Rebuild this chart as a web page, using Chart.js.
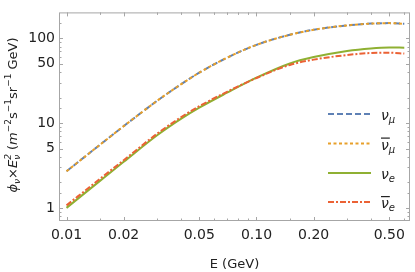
<!DOCTYPE html>
<html>
<head>
<meta charset="utf-8">
<script src="https://cdn.jsdelivr.net/npm/chart.js@4.4.1/dist/chart.umd.min.js"></script>
<style>
  html, body { margin: 0; padding: 0; background: #fff; }
  #wrap { width: 415px; height: 272px; }
</style>
</head>
<body>
<div id="wrap"><canvas id="fluxChart"></canvas></div>
<script>
// energies (GeV) and flux x E^2 values
const energy = [0.01, 0.015, 0.02, 0.03, 0.04, 0.05, 0.07, 0.1, 0.15, 0.2, 0.3, 0.4, 0.5, 0.6];
const numu    = [2.7, 5.55, 9.2, 18.3, 28.6, 39.3, 59, 83.7, 110, 126, 142, 149, 151, 148];
const numubar = [2.7, 5.55, 9.2, 18.3, 28.6, 39.3, 59, 83.7, 110, 126, 142, 149, 151, 148];
const nue     = [1.0, 2.08, 3.49, 7.18, 11.2, 15.2, 22.8, 34.3, 50.5, 60, 71, 76, 77.8, 77.5];
const nuebar  = [1.07, 2.2, 3.65, 7.5, 11.7, 15.8, 23.4, 34.0, 48.5, 56, 63.5, 67, 67.5, 66];

const xTicks = [0.01, 0.02, 0.05, 0.1, 0.2, 0.5];
const xMinor = [0.015, 0.03, 0.04, 0.06, 0.07, 0.08, 0.09, 0.15, 0.3, 0.4, 0.6];
const yTicks = [1, 5, 10, 50, 100];
const yMinor = [0.8, 0.9, 1.5, 2, 3, 4, 6, 7, 8, 9, 15, 20, 30, 40, 60, 70, 80, 90, 150];

const legendNames = [
    { sub: 'μ', bar: false },
    { sub: 'μ', bar: true },
    { sub: 'e', bar: false },
    { sub: 'e', bar: true }
];

const FONT = 'DejaVu Sans';

function toPoints(values) {
    return energy.map((e, i) => ({ x: e, y: values[i] }));
}

// frame, inward tick marks, y title and legend
const decorPlugin = {
    id: 'decor',
    afterDatasetsDraw(chart) {
        const ctx = chart.ctx;
        const a = chart.chartArea;
        const xs = chart.scales.x, ys = chart.scales.y;
        ctx.save();
        ctx.strokeStyle = '#a6a6a6';
        ctx.lineWidth = 1;
        ctx.strokeRect(a.left + 0.5, a.top + 0.5, a.right - a.left - 1, a.bottom - a.top - 1);

        function xTick(v, len) {
            const px = Math.round(xs.getPixelForValue(v)) + 0.5;
            ctx.beginPath();
            ctx.moveTo(px, a.bottom); ctx.lineTo(px, a.bottom - len);
            ctx.moveTo(px, a.top); ctx.lineTo(px, a.top + len);
            ctx.stroke();
        }
        function yTick(v, len) {
            const py = Math.round(ys.getPixelForValue(v)) + 0.5;
            ctx.beginPath();
            ctx.moveTo(a.left, py); ctx.lineTo(a.left + len, py);
            ctx.moveTo(a.right, py); ctx.lineTo(a.right - len, py);
            ctx.stroke();
        }
        xTicks.forEach(v => xTick(v, 4));
        xMinor.forEach(v => xTick(v, 2.5));
        yTicks.forEach(v => yTick(v, 4));
        yMinor.forEach(v => yTick(v, 2.5));

        // legend
        const rows = [114, 143.5, 173, 202];
        chart.data.datasets.forEach((ds, i) => {
            const y = rows[i];
            ctx.save();
            ctx.strokeStyle = ds.borderColor;
            ctx.lineWidth = ds.borderWidth;
            ctx.setLineDash(ds.borderDash || []);
            ctx.beginPath();
            ctx.moveTo(328, y); ctx.lineTo(371, y);
            ctx.stroke();
            ctx.restore();

            const item = legendNames[i];
            ctx.fillStyle = '#222';
            ctx.textBaseline = 'alphabetic';
            ctx.font = 'italic 14px ' + FONT;
            ctx.fillText('ν', 381, y + 6);
            const w = ctx.measureText('ν').width;
            ctx.font = 'italic 10px ' + FONT;
            ctx.fillText(item.sub, 381 + w, y + 9);
            if (item.bar) {
                ctx.fillRect(381, y - 6, w + 1, 1.2);
            }
        });

        // y axis title with sub/superscripts
        const big = '13px ' + FONT, bigI = 'italic 13px ' + FONT;
        const sm = '9px ' + FONT, smI = 'italic 9px ' + FONT;
        const parts = [
            { t: 'ϕ', f: bigI, dy: 0 },
            { t: 'ν', f: smI, dy: 3 },
            { t: '×', f: big, dy: 0 },
            { t: 'E', f: bigI, dy: 0 },
            { t: 'ν', f: smI, dy: 3, stack: '2' },
            { t: ' (', f: big, dy: 0 },
            { t: 'm', f: bigI, dy: 0 },
            { t: '−2', f: sm, dy: -6 },
            { t: 's', f: big, dy: 0 },
            { t: '−1', f: sm, dy: -6 },
            { t: 'sr', f: big, dy: 0 },
            { t: '−1', f: sm, dy: -6 },
            { t: ' GeV)', f: big, dy: 0 }
        ];
        let total = 0;
        parts.forEach(p => {
            ctx.font = p.f;
            let w = ctx.measureText(p.t).width;
            if (p.stack) w = Math.max(w, ctx.measureText(p.stack).width);
            p.w = w;
            total += w;
        });
        ctx.translate(17, 115);
        ctx.rotate(-Math.PI / 2);
        ctx.fillStyle = '#222';
        ctx.textBaseline = 'alphabetic';
        let cx = -total / 2;
        parts.forEach(p => {
            ctx.font = p.f;
            ctx.fillText(p.t, cx, p.dy);
            if (p.stack) ctx.fillText(p.stack, cx, -6);
            cx += p.w;
        });
        ctx.restore();
    }
};

const ctx = document.getElementById('fluxChart').getContext('2d');
const fluxChart = new Chart(ctx, {
    type: 'line',
    data: {
        datasets: [
            { label: 'nu_mu', data: toPoints(numu), borderColor: '#5E81B5', borderDash: [6, 3], order: 1 },
            { label: 'nu_mu bar', data: toPoints(numubar), borderColor: '#E8A02A', borderDash: [3, 2.5], order: 0 },
            { label: 'nu_e', data: toPoints(nue), borderColor: '#8FB032', order: 3 },
            { label: 'nu_e bar', data: toPoints(nuebar), borderColor: '#EB6235', borderDash: [6, 2, 2, 2], order: 2 }
        ].map(d => Object.assign({ borderWidth: 2, pointRadius: 0, fill: false, cubicInterpolationMode: 'monotone' }, d))
    },
    options: {
        responsive: true,
        maintainAspectRatio: false,
        animation: false,
        layout: { padding: { top: 3, right: 5, left: 0, bottom: 0 } },
        plugins: {
            legend: { display: false },
            tooltip: { enabled: false }
        },
        scales: {
            x: {
                type: 'logarithmic',
                min: 0.00913,
                max: 0.643,
                grid: { display: false, drawTicks: false },
                border: { display: false },
                afterBuildTicks: scale => { scale.ticks = xTicks.map(v => ({ value: v })); },
                afterFit: scale => { scale.height = 51; },
                ticks: {
                    autoSkip: false,
                    maxRotation: 0,
                    padding: 6,
                    color: '#222',
                    font: { family: FONT, size: 14 },
                    callback: v => Number(v).toFixed(2)
                },
                title: {
                    display: true,
                    text: 'E (GeV)',
                    color: '#222',
                    font: { family: FONT, size: 13 },
                    padding: { top: 2, bottom: 0 }
                }
            },
            y: {
                type: 'logarithmic',
                min: 0.74,
                max: 202,
                grid: { display: false, drawTicks: false },
                border: { display: false },
                afterBuildTicks: scale => { scale.ticks = yTicks.map(v => ({ value: v })); },
                afterFit: scale => { scale.width = 59; },
                ticks: {
                    autoSkip: false,
                    padding: 4,
                    color: '#222',
                    font: { family: FONT, size: 14 },
                    callback: v => String(v)
                }
            }
        }
    },
    plugins: [decorPlugin]
});
</script>
</body>
</html>
